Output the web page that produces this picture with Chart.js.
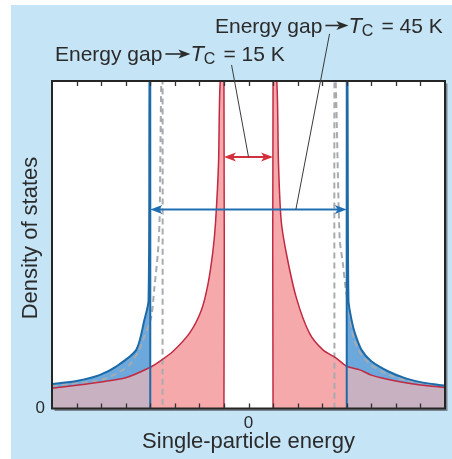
<!DOCTYPE html>
<html><head><meta charset="utf-8">
<script src="https://cdn.jsdelivr.net/npm/chart.js@4.4.0/dist/chart.umd.min.js"></script>
<style>html,body{margin:0;padding:0;background:#fff;overflow:hidden}</style>
</head><body>
<canvas id="c" width="452" height="459"></canvas>
<script>
// ---------- data ----------
const xTickValues = [-7,-6,-5,-4,-3,-2,-1,0,1,2,3,4,5,6,7];
const xLabelValues = [0];
const yLabelValues = [0];
const xTitle = 'Single-particle energy';
const yTitle = 'Density of states';
const tcValues = [15, 45];

// red curve: gap for Tc = 15 K
const redLeftE  = [-8, -7, -6, -5, -4, -3.54, -3.08, -2.4, -1.92, -1.65, -1.45, -1.34, -1.22, -1.15, -1, -1];
const redLeftV  = [6.2, 7.1, 8.1, 9.4, 12.6, 14.8, 17.4, 23, 30, 38, 48, 57, 75, 100, 100, 0];
const redRightE = [1, 1, 1.15, 1.22, 1.33, 1.54, 1.94, 2.48, 3.03, 3.57, 4, 4.53, 5, 6, 7, 8];
const redRightV = [0, 100, 100, 75, 57.4, 47.4, 34, 23, 17.9, 15.4, 12.9, 11.8, 10.2, 8.4, 7.2, 6.4];

// blue curve: gap for Tc = 45 K
const blueLeftE  = [-8, -7, -6.07, -5.39, -4.57, -4.24, -4.07, -4.03, -4, -4];
const blueLeftV  = [7.5, 8.4, 10.2, 12.8, 17.9, 27, 33, 100, 100, 0];
const blueRightE = [4, 4, 4.03, 4.07, 4.2, 4.33, 4.6, 5, 5.7, 6.4, 7.1, 7.75, 8];
const blueRightV = [0, 100, 100, 33, 26.9, 23, 17.9, 14.4, 11.3, 9.2, 7.9, 7.2, 7.0];

// grey dashed curve
const greyLeftE  = [-8, -7, -6.35, -5.8, -5.25, -4.85, -4.51, -4.24, -3.96, -3.83, -3.69, -3.62, -3.55, -3.5, -3.5];
const greyLeftV  = [6.9, 7.7, 8.2, 9.2, 11.2, 13.3, 17, 21.9, 28, 37, 47.5, 57.5, 100, 100, 0];
const greyRightE = [3.5, 3.5, 3.55, 3.71, 3.84, 3.95, 4.11, 4.3, 4.6, 5, 5.6, 6.4, 7.2, 8];
const greyRightV = [0, 100, 100, 52, 44.4, 37, 29, 21, 16.5, 13.2, 10.6, 8.6, 7.5, 6.9];

// gap arrows (half-width in energy, height) and leader lines
const gapArrowE = [1, 4];
const gapArrowY = [76.8, 60.8];
const leaderFromE = [-0.69, 3.3];
const leaderFromY = [104.9, 114.4];
const leaderToE = [0, 1.93];

// ---------- helpers ----------
function pts(E, V) { return E.map((e, i) => ({x: e, y: V[i]})); }
const GAP = {x: 0, y: null};
const redAll = [...pts(redLeftE, redLeftV), GAP, ...pts(redRightE, redRightV)];
const blueAll = [...pts(blueLeftE, blueLeftV), GAP, ...pts(blueRightE, blueRightV)];
const greyAll = [...pts(greyLeftE, greyLeftV), GAP, ...pts(greyRightE, greyRightV)];
const redInner = [...pts(redLeftE, redLeftV).filter(p => p.x >= -4), GAP, ...pts(redRightE, redRightV).filter(p => p.x <= 4)];
const redOuter = [...pts(redLeftE, redLeftV).filter(p => p.x <= -4), GAP, ...pts(redRightE, redRightV).filter(p => p.x >= 4)];

const FONT = '"Liberation Sans", Arial, Helvetica, sans-serif';
const TXT = '#2b2b2b';

function drawArrowHead(ctx, x, y, dir, len, half) {
  ctx.beginPath();
  ctx.moveTo(x, y);
  ctx.lineTo(x - dir * len, y - half);
  ctx.lineTo(x - dir * len * 0.75, y);
  ctx.lineTo(x - dir * len, y + half);
  ctx.closePath();
  ctx.fill();
}

function drawGapLabel(ctx, x, y, tc, arrowLen) {
  ctx.textAlign = 'left'; ctx.textBaseline = 'alphabetic'; ctx.fillStyle = TXT; ctx.strokeStyle = TXT;
  ctx.font = '21px ' + FONT;
  ctx.fillText('Energy gap', x, y);
  x += ctx.measureText('Energy gap').width + 3;
  const ay = y - 7;
  ctx.lineWidth = 1.6;
  ctx.beginPath(); ctx.moveTo(x, ay); ctx.lineTo(x + arrowLen - 9, ay); ctx.stroke();
  drawArrowHead(ctx, x + arrowLen, ay, 1, 12, 4.5);
  x += arrowLen;
  ctx.font = 'italic 22px ' + FONT;
  ctx.fillText('T', x, y);
  x += ctx.measureText('T').width;
  ctx.font = '16px ' + FONT;
  ctx.fillText('C', x, y + 3);
  x += ctx.measureText('C').width + 8;
  ctx.font = '21px ' + FONT;
  ctx.fillText('= ' + tc + ' K', x, y);
}

const deco = {
  id: 'deco',
  beforeDraw(chart) {
    const {ctx, chartArea: a} = chart;
    ctx.save();
    ctx.fillStyle = '#ffffff'; ctx.fillRect(0, 0, chart.width, chart.height);
    ctx.fillStyle = '#c5e4f6'; ctx.fillRect(11, 5, chart.width - 11, chart.height - 5);
    ctx.fillStyle = '#7b8893'; ctx.fillRect(a.left + 2.5, a.top + 2.5, a.right - a.left, a.bottom - a.top);
    ctx.fillStyle = '#ffffff'; ctx.fillRect(a.left, a.top, a.right - a.left, a.bottom - a.top);
    ctx.restore();
  },
  afterDatasetsDraw(chart) {
    const {ctx, chartArea: a, scales: {x: sx, y: sy}} = chart;
    ctx.save();
    // frame
    ctx.strokeStyle = '#262626'; ctx.lineWidth = 2;
    ctx.strokeRect(a.left, a.top, a.right - a.left, a.bottom - a.top);
    // inward ticks
    ctx.lineWidth = 1.3; ctx.strokeStyle = '#333';
    xTickValues.forEach(v => {
      const px = Math.round(sx.getPixelForValue(v)) + 0.5;
      ctx.beginPath();
      ctx.moveTo(px, a.bottom); ctx.lineTo(px, a.bottom - 5);
      ctx.moveTo(px, a.top); ctx.lineTo(px, a.top + 5);
      ctx.stroke();
    });
    // gap arrows
    const arrowCols = ['#d2303c', '#1f6fb2'];
    gapArrowE.forEach((e, i) => {
      const x1 = sx.getPixelForValue(-e), x2 = sx.getPixelForValue(e), y = sy.getPixelForValue(gapArrowY[i]);
      ctx.strokeStyle = arrowCols[i]; ctx.fillStyle = arrowCols[i]; ctx.lineWidth = 2;
      ctx.beginPath(); ctx.moveTo(x1 + 8, y); ctx.lineTo(x2 - 8, y); ctx.stroke();
      drawArrowHead(ctx, x1, y, -1, 12, 4.5);
      drawArrowHead(ctx, x2, y, 1, 12, 4.5);
    });
    // leader lines
    ctx.strokeStyle = '#3a3a3a'; ctx.lineWidth = 1;
    leaderFromE.forEach((e, i) => {
      ctx.beginPath();
      ctx.moveTo(sx.getPixelForValue(e), sy.getPixelForValue(leaderFromY[i]));
      ctx.lineTo(sx.getPixelForValue(leaderToE[i]), sy.getPixelForValue(gapArrowY[i]));
      ctx.stroke();
    });
    // labels
    drawGapLabel(ctx, 55, 61, tcValues[0], 25);
    drawGapLabel(ctx, 215, 32.5, tcValues[1], 23);
    // y axis title
    ctx.save();
    ctx.translate(30.5, 238);
    ctx.rotate(-Math.PI / 2);
    ctx.font = '22px ' + FONT; ctx.fillStyle = TXT; ctx.textAlign = 'center'; ctx.textBaseline = 'middle';
    ctx.fillText(yTitle, 0, 0);
    ctx.restore();
    ctx.restore();
  }
};

const common = {pointRadius: 0, pointHoverRadius: 0, tension: 0.25, spanGaps: false};

new Chart(document.getElementById('c'), {
  type: 'line',
  data: {
    datasets: [
      Object.assign({label: 'blue line', data: blueAll, borderColor: '#1d6aa9', borderWidth: 2, fill: false, order: 1}, common),
      Object.assign({label: 'red line', data: redAll, borderColor: '#c02a43', borderWidth: 1.5, fill: false, order: 2}, common),
      Object.assign({label: 'grey dashed', data: greyAll, borderColor: '#a7abb0', borderWidth: 2, borderDash: [6, 4], fill: false, order: 3}, common),
      Object.assign({label: 'red fill inner', data: redInner, borderWidth: 0, borderColor: 'rgba(0,0,0,0)', backgroundColor: '#f5a9ab', fill: 'origin', order: 4}, common),
      Object.assign({label: 'red fill outer', data: redOuter, borderWidth: 0, borderColor: 'rgba(0,0,0,0)', backgroundColor: '#c8b1c1', fill: 'origin', order: 5}, common),
      Object.assign({label: 'blue fill', data: blueAll, borderWidth: 0, borderColor: 'rgba(0,0,0,0)', backgroundColor: '#6ca8db', fill: 'origin', order: 6}, common)
    ]
  },
  options: {
    responsive: false,
    animation: false,
    events: [],
    layout: {padding: {top: 81, right: 7, left: 0, bottom: 0}},
    plugins: {legend: {display: false}, tooltip: {enabled: false}},
    scales: {
      x: {
        type: 'linear', min: -8, max: 8,
        grid: {display: false, drawTicks: false}, border: {display: false},
        afterBuildTicks: s => { s.ticks = xLabelValues.map(v => ({value: v})); },
        afterFit: s => { s.height = 50.5; },
        ticks: {padding: 5, color: TXT, font: {size: 17, family: FONT}, maxRotation: 0, autoSkip: false, callback: v => String(v)},
        title: {display: true, text: xTitle, color: TXT, font: {size: 22, family: FONT}, padding: {top: 0, bottom: 3.5}}
      },
      y: {
        type: 'linear', min: 0, max: 100,
        grid: {display: false, drawTicks: false}, border: {display: false},
        afterBuildTicks: s => { s.ticks = yLabelValues.map(v => ({value: v})); },
        afterFit: s => { s.width = 52; },
        ticks: {padding: 7, color: TXT, font: {size: 17, family: FONT}, callback: v => String(v)},
        title: {display: false}
      }
    }
  },
  plugins: [deco]
});
</script>
</body></html>
